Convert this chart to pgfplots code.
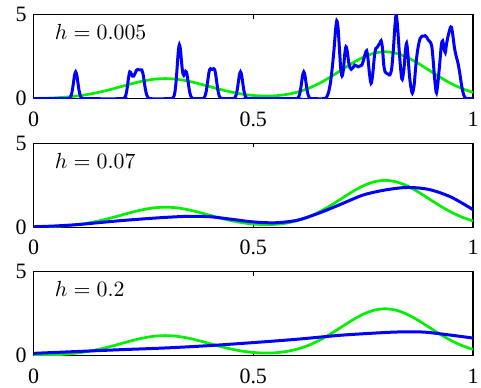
\documentclass[border=0pt]{standalone}
\usepackage{fontspec}
\setmainfont{Liberation Serif}
\usepackage{pgfplots}
\pgfplotsset{compat=1.18}
\pgfplotsset{
  kde/.style={
    width=219.75bp, height=42bp, scale only axis,
    xmin=0,xmax=1,ymin=0,ymax=5,
    xtick={0,0.5,1}, ytick={0,5},
    tick align=inside, major tick length=2bp,
    /pgf/number format/assume math mode=true,
    tick label style={font=\fontsize{11}{12}\selectfont},
    xticklabel style={yshift=-3bp},
    axis line style={line width=0.7bp},
    every tick/.style={black, line width=0.5bp},
    anchor=south west,
  },
  gcurve/.style={color={rgb,255:red,0;green,240;blue,0}, line width=1.35bp, smooth},
  bcurve/.style={color={rgb,255:red,0;green,0;blue,255}, line width=1.5bp, smooth},
}
\tikzset{hlabel/.style={anchor=west, inner sep=0pt, font=\fontsize{11}{12}\selectfont}}
\pgfplotstableread{
x y
0 0.013
0.025 0.027
0.05 0.053
0.075 0.095
0.1 0.162
0.125 0.259
0.15 0.389
0.175 0.548
0.2 0.726
0.225 0.903
0.25 1.056
0.275 1.160
0.3 1.197
0.325 1.160
0.35 1.056
0.375 0.903
0.4 0.727
0.425 0.551
0.45 0.395
0.475 0.273
0.5 0.193
0.525 0.159
0.55 0.175
0.575 0.250
0.6 0.391
0.625 0.610
0.65 0.910
0.675 1.280
0.7 1.694
0.725 2.108
0.75 2.465
0.775 2.707
0.8 2.793
0.825 2.707
0.85 2.465
0.875 2.108
0.9 1.694
0.925 1.279
0.95 0.907
0.975 0.604
1.0 0.378
}\green
\pgfplotstableread{
x y
0 0
0.075 0
0.081 0.018
0.0835 0.070
0.086 0.216
0.0885 0.518
0.091 0.968
0.0935 1.408
0.096 1.596
0.0985 1.408
0.101 0.968
0.1035 0.518
0.106 0.216
0.1085 0.070
0.111 0.018
0.117 0
0.204 0
0.207 0.05
0.210 0.2
0.213 0.6
0.216 1.2
0.219 1.6
0.222 1.5
0.225 1.35
0.228 1.35
0.231 1.5
0.234 1.68
0.237 1.74
0.240 1.72
0.243 1.72
0.246 1.72
0.249 1.5
0.252 1.0
0.255 0.5
0.258 0.2
0.261 0.06
0.264 0
0.312 0
0.316 0.02
0.319 0.11
0.322 0.43
0.325 1.20
0.328 2.32
0.330 2.95
0.332 3.21
0.334 3.0
0.336 2.46
0.338 1.87
0.340 1.49
0.342 1.40
0.344 1.51
0.346 1.63
0.348 1.58
0.350 1.33
0.352 0.97
0.354 0.60
0.356 0.32
0.358 0.14
0.361 0.03
0.365 0
0.384 0
0.387 0.03
0.390 0.14
0.393 0.44
0.396 0.98
0.399 1.53
0.401 1.74
0.403 1.79
0.4065 1.74
0.410 1.79
0.412 1.74
0.414 1.53
0.417 0.98
0.420 0.44
0.423 0.14
0.426 0.03
0.429 0
0.450 0
0.456 0.018
0.4585 0.070
0.461 0.216
0.4635 0.518
0.466 0.968
0.4685 1.408
0.471 1.596
0.4735 1.408
0.476 0.968
0.4785 0.518
0.481 0.216
0.4835 0.070
0.486 0.018
0.492 0
0.594 0
0.600 0.018
0.6025 0.070
0.605 0.216
0.6075 0.518
0.610 0.968
0.6125 1.408
0.615 1.596
0.6175 1.408
0.620 0.968
0.6225 0.518
0.625 0.216
0.6275 0.070
0.630 0.018
0.636 0
0.662 0
0.666 0.05
0.669 0.2
0.672 0.45
0.676 1.0
0.680 1.9
0.684 3.0
0.687 4.0
0.690 4.64
0.693 4.2
0.696 3.0
0.699 1.8
0.702 1.35
0.705 1.7
0.708 2.6
0.711 3.1
0.714 2.8
0.717 2.2
0.720 1.85
0.723 1.75
0.727 1.85
0.731 2.0
0.735 1.95
0.739 1.9
0.743 1.95
0.747 2.0
0.751 2.3
0.755 2.7
0.758 2.86
0.761 2.4
0.764 1.6
0.767 1.0
0.769 0.95
0.772 1.5
0.776 2.6
0.779 3.0
0.782 3.05
0.785 3.2
0.788 3.3
0.791 3.45
0.794 3.0
0.797 2.0
0.800 1.6
0.804 1.5
0.808 1.45
0.811 1.42
0.815 1.8
0.819 3.0
0.822 4.2
0.825 4.98
0.828 4.4
0.832 2.9
0.836 1.6
0.839 1.15
0.843 1.8
0.846 2.8
0.849 3.3
0.852 2.6
0.855 1.5
0.858 0.8
0.862 0.33
0.866 0.8
0.869 1.7
0.872 2.5
0.876 3.2
0.880 3.6
0.884 3.72
0.888 3.72
0.891 3.75
0.895 3.65
0.898 3.5
0.902 3.4
0.906 3.15
0.909 2.4
0.912 1.4
0.915 0.6
0.917 0.35
0.920 0.9
0.924 2.0
0.928 3.2
0.931 3.45
0.934 3.0
0.937 2.75
0.940 3.3
0.944 3.8
0.948 4.2
0.951 4.25
0.954 3.8
0.958 3.0
0.962 2.5
0.966 2.1
0.970 1.5
0.974 0.8
0.978 0.3
0.982 0.05
0.986 0
1 0
}\blueA
\pgfplotstableread{
x y
0 0.03
0.05 0.08
0.1 0.16
0.15 0.28
0.2 0.40
0.25 0.50
0.3 0.59
0.35 0.65
0.4 0.63
0.45 0.48
0.5 0.32
0.55 0.27
0.6 0.42
0.65 0.85
0.7 1.38
0.75 1.92
0.8 2.22
0.85 2.37
0.9 2.25
0.95 1.8
1.0 1.05
}\blueB
\pgfplotstableread{
x y
0 0.14
0.1 0.25
0.2 0.36
0.3 0.46
0.4 0.60
0.5 0.78
0.6 0.98
0.7 1.22
0.8 1.38
0.85 1.42
0.9 1.38
1.0 1.05
}\blueC
\begin{document}
\begin{tikzpicture}
\useasboundingbox (0,0) rectangle (240.5bp,194bp);
\begin{axis}[kde, at={(16.75bp,144.65bp)}]
\addplot[gcurve] table {\green};
\addplot[bcurve] table {\blueA};
\node[hlabel] at (rel axis cs:0.048,0.79) {$h = 0.005$};
\end{axis}
\begin{axis}[kde, at={(16.75bp,80.35bp)}]
\addplot[gcurve] table {\green};
\addplot[bcurve] table {\blueB};
\node[hlabel] at (rel axis cs:0.048,0.79) {$h = 0.07$};
\end{axis}
\begin{axis}[kde, at={(16.75bp,16.15bp)}]
\addplot[gcurve] table {\green};
\addplot[bcurve] table {\blueC};
\node[hlabel] at (rel axis cs:0.048,0.79) {$h = 0.2$};
\end{axis}
\end{tikzpicture}
\end{document}
